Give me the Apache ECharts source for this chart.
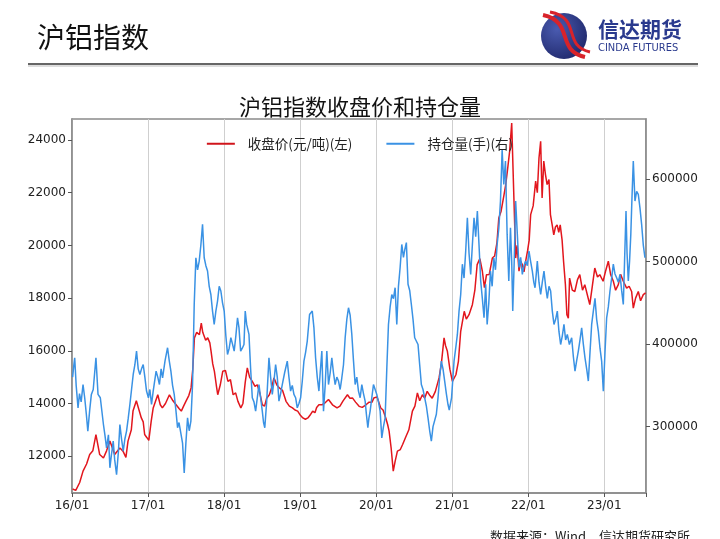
<!DOCTYPE html>
<html>
<head>
<meta charset="utf-8">
<script src="https://cdn.jsdelivr.net/npm/echarts@6/dist/echarts.min.js"></script>
<style>
  html, body { margin: 0; padding: 0; background: #fff; }
  #main { width: 720px; height: 539px; }
</style>
</head>
<body>
<div id="main"></div>
<script>
// 收盘价（元/吨），左轴
const priceDates = [
  '2016-01-04','2016-01-19','2016-02-07','2016-02-23','2016-03-11','2016-03-26','2016-04-10','2016-04-25','2016-05-13','2016-05-31',
  '2016-06-15','2016-07-01','2016-07-24','2016-08-18','2016-09-02','2016-09-16','2016-09-26','2016-10-12','2016-10-20','2016-11-05',
  '2016-11-13','2016-11-29','2016-12-08','2016-12-15','2016-12-26','2017-01-04','2017-01-15','2017-01-25','2017-02-06','2017-02-16',
  '2017-02-28','2017-03-10','2017-03-25','2017-04-13','2017-04-30','2017-05-15','2017-05-30','2017-06-09','2017-06-20','2017-07-01',
  '2017-07-15','2017-07-26','2017-08-03','2017-08-11','2017-08-22','2017-09-04','2017-09-13','2017-09-20','2017-10-04','2017-10-14',
  '2017-10-24','2017-10-30','2017-11-07','2017-11-15','2017-11-24','2017-12-01','2017-12-13','2017-12-25','2018-01-07','2018-01-19',
  '2018-01-31','2018-02-13','2018-02-25','2018-03-08','2018-03-22','2018-04-01','2018-04-12','2018-04-22','2018-05-03','2018-05-16',
  '2018-05-29','2018-06-09','2018-06-21','2018-07-03','2018-07-14','2018-07-24','2018-08-06','2018-08-17','2018-08-28','2018-09-11',
  '2018-09-23','2018-10-08','2018-10-25','2018-11-10','2018-11-25','2018-12-07','2018-12-20','2019-01-02','2019-01-14','2019-01-26',
  '2019-02-07','2019-02-17','2019-03-02','2019-03-13','2019-03-21','2019-04-01','2019-04-16','2019-04-27','2019-05-17','2019-06-05',
  '2019-06-27','2019-07-11','2019-07-26','2019-08-16','2019-08-28','2019-09-09','2019-09-24','2019-10-11','2019-10-26','2019-11-13',
  '2019-11-28','2019-12-12','2019-12-21','2020-01-05','2020-01-23','2020-02-03','2020-02-16','2020-02-25','2020-03-03','2020-03-13',
  '2020-03-23','2020-04-01','2020-04-12','2020-04-26','2020-05-07','2020-05-20','2020-06-06','2020-06-23','2020-07-05','2020-07-17',
  '2020-07-28','2020-08-10','2020-08-21','2020-09-02','2020-09-15','2020-09-26','2020-10-11','2020-10-29','2020-11-09','2020-11-22',
  '2020-11-29','2020-12-08','2020-12-20','2021-01-01','2021-01-18','2021-01-30','2021-02-10','2021-02-27','2021-03-09','2021-03-22',
  '2021-04-07','2021-04-19','2021-04-30','2021-05-13','2021-05-25','2021-06-04','2021-06-14','2021-06-27','2021-07-12','2021-07-23',
  '2021-08-03','2021-08-12','2021-08-23','2021-09-06','2021-09-14','2021-09-22','2021-10-03','2021-10-13','2021-10-19','2021-10-24',
  '2021-11-01','2021-11-08','2021-11-17','2021-11-25','2021-12-03','2021-12-11','2021-12-19','2021-12-28','2022-01-05','2022-01-12',
  '2022-01-24','2022-02-05','2022-02-13','2022-02-21','2022-03-01','2022-03-08','2022-03-16','2022-03-24','2022-04-01','2022-04-10',
  '2022-04-17','2022-04-25','2022-05-03','2022-05-11','2022-05-19','2022-05-27','2022-06-03','2022-06-12','2022-06-19','2022-06-28',
  '2022-07-05','2022-07-12','2022-07-18','2022-07-31','2022-08-12','2022-08-25','2022-09-05','2022-09-18','2022-09-29','2022-10-12',
  '2022-10-23','2022-11-05','2022-11-16','2022-11-29','2022-12-10','2022-12-26','2023-01-06','2023-01-20','2023-01-31','2023-02-13',
  '2023-02-24','2023-03-09','2023-03-20','2023-04-02','2023-04-18','2023-04-30','2023-05-12','2023-05-20','2023-05-31','2023-06-13',
  '2023-06-24','2023-07-07','2023-07-18'
];
const priceValues = [
  10750,10700,11000,11430,11700,12060,12200,12820,12060,11930,
  12200,12570,12060,12310,12190,11950,12570,13000,13710,14100,
  14080,13450,13300,12820,12700,12600,13300,13830,14100,14330,
  13950,13830,14000,14330,14100,13950,13800,13710,13900,14080,
  14300,14590,15300,16490,16700,16610,17050,16700,16400,16490,
  16300,15980,15500,15220,14700,14330,14700,15220,15250,14840,
  14900,14330,14400,14080,13830,14000,14800,15350,15000,14840,
  14650,14710,14400,13950,13900,14200,14330,14600,14970,14700,
  14590,14500,14080,13900,13830,13750,13710,13550,13450,13400,
  13450,13550,13710,13650,13850,13950,13950,14000,14150,13950,
  13830,13900,14100,14330,14200,14210,14050,13890,13850,13950,
  14050,14050,14210,14250,13830,13750,13450,13200,12950,12300,
  11430,11800,12190,12250,12440,12690,13000,13710,13900,14400,
  14100,14330,14200,14460,14300,14200,14450,14970,15500,16490,
  16200,15980,15300,14840,15090,15600,16740,17500,17200,17370,
  17750,18300,19270,19500,19020,18400,18890,18900,19520,19600,
  20100,21040,21300,21920,22300,22810,23570,24650,23000,21670,
  19520,20000,19020,19400,19270,19000,19400,19790,20200,21170,
  21500,22440,22000,23320,23950,21800,23200,22700,22310,22500,
  21170,20800,20400,20700,20780,20500,20780,20200,19400,18500,
  17370,17240,18760,18300,18250,18700,18890,18300,18510,18100,
  17750,18500,19140,18800,18890,18640,19000,19400,18900,18640,
  18300,18510,18900,18640,18380,18450,18250,17620,18000,18250,
  17900,18130,18200
];

// 持仓量（手），右轴
const oiDates = [
  '2016-01-04','2016-01-10','2016-01-14','2016-01-21','2016-01-30','2016-02-06','2016-02-14','2016-02-23','2016-03-02','2016-03-10',
  '2016-03-17','2016-03-26','2016-04-03','2016-04-12','2016-04-25','2016-05-05','2016-05-16','2016-05-31','2016-06-07','2016-06-15',
  '2016-06-24','2016-07-01','2016-07-08','2016-07-17','2016-07-24','2016-08-02','2016-08-11','2016-08-18','2016-08-26','2016-09-03',
  '2016-09-11','2016-09-19','2016-09-27','2016-10-05','2016-10-13','2016-10-21','2016-10-29','2016-11-06','2016-11-14','2016-11-22',
  '2016-11-30','2016-12-08','2016-12-16','2016-12-24','2017-01-02','2017-01-09','2017-01-17','2017-01-25','2017-02-08','2017-02-16',
  '2017-02-24','2017-03-04','2017-03-11','2017-03-23','2017-04-04','2017-04-12','2017-04-20','2017-04-28','2017-05-06','2017-05-14',
  '2017-05-22','2017-05-29','2017-06-07','2017-06-15','2017-06-23','2017-07-01','2017-07-09','2017-07-17','2017-07-25','2017-08-02',
  '2017-08-10','2017-08-18','2017-08-26','2017-09-03','2017-09-11','2017-09-19','2017-09-27','2017-10-05','2017-10-13','2017-10-21',
  '2017-10-29','2017-11-06','2017-11-14','2017-11-22','2017-11-30','2017-12-08','2017-12-16','2017-12-24','2018-01-01','2018-01-09',
  '2018-01-17','2018-01-25','2018-02-02','2018-02-10','2018-02-18','2018-02-26','2018-03-06','2018-03-13','2018-03-21','2018-03-29',
  '2018-04-06','2018-04-12','2018-04-19','2018-04-30','2018-05-08','2018-05-16','2018-05-24','2018-06-01','2018-06-09','2018-06-17',
  '2018-06-25','2018-07-03','2018-07-09','2018-07-15','2018-07-24','2018-08-04','2018-08-12','2018-08-20','2018-08-28','2018-09-05',
  '2018-09-13','2018-09-21','2018-09-29','2018-10-07','2018-10-18','2018-10-31','2018-11-08','2018-11-16','2018-11-24','2018-12-02',
  '2018-12-10','2018-12-18','2018-12-26','2019-01-03','2019-01-11','2019-01-19','2019-01-27','2019-02-04','2019-02-15','2019-02-22',
  '2019-02-28','2019-03-08','2019-03-16','2019-03-24','2019-04-01','2019-04-07','2019-04-15','2019-04-23','2019-05-01','2019-05-09',
  '2019-05-17','2019-05-25','2019-06-02','2019-06-10','2019-06-18','2019-06-26','2019-07-04','2019-07-12','2019-07-20','2019-07-28',
  '2019-08-05','2019-08-13','2019-08-21','2019-08-29','2019-09-06','2019-09-14','2019-09-22','2019-09-30','2019-10-08','2019-10-16',
  '2019-10-24','2019-11-01','2019-11-09','2019-11-15','2019-11-22','2019-11-27','2019-12-03','2019-12-11','2019-12-19','2019-12-27',
  '2020-01-04','2020-01-12','2020-01-20','2020-01-28','2020-02-05','2020-02-13','2020-02-21','2020-02-29','2020-03-08','2020-03-16',
  '2020-03-24','2020-04-01','2020-04-09','2020-04-17','2020-04-25','2020-05-03','2020-05-11','2020-05-18','2020-05-25','2020-06-02',
  '2020-06-10','2020-06-18','2020-06-26','2020-07-04','2020-07-12','2020-07-20','2020-07-28','2020-08-05','2020-08-13','2020-08-21',
  '2020-08-29','2020-09-06','2020-09-14','2020-09-22','2020-09-30','2020-10-08','2020-10-16','2020-10-24','2020-11-01','2020-11-09',
  '2020-11-17','2020-11-25','2020-12-03','2020-12-11','2020-12-17','2020-12-28','2021-01-09','2021-01-17','2021-01-25','2021-02-02',
  '2021-02-10','2021-02-18','2021-02-26','2021-03-06','2021-03-14','2021-03-22','2021-03-30','2021-04-07','2021-04-15','2021-04-23',
  '2021-05-01','2021-05-09','2021-05-17','2021-05-25','2021-06-02','2021-06-10','2021-06-17','2021-06-25','2021-07-03','2021-07-11',
  '2021-07-19','2021-07-27','2021-08-04','2021-08-12','2021-08-20','2021-08-28','2021-09-05','2021-09-13','2021-09-21','2021-09-29',
  '2021-10-07','2021-10-13','2021-10-18','2021-10-25','2021-11-01','2021-11-09','2021-11-17','2021-11-25','2021-12-03','2021-12-11',
  '2021-12-19','2021-12-27','2022-01-04','2022-01-12','2022-01-20','2022-01-27','2022-02-02','2022-02-08','2022-02-13','2022-02-21',
  '2022-03-01','2022-03-09','2022-03-17','2022-03-25','2022-04-02','2022-04-10','2022-04-18','2022-04-26','2022-05-04','2022-05-12',
  '2022-05-20','2022-05-28','2022-06-05','2022-06-13','2022-06-21','2022-06-29','2022-07-07','2022-07-17','2022-07-28','2022-08-05',
  '2022-08-13','2022-08-21','2022-08-29','2022-09-06','2022-09-14','2022-09-22','2022-09-30','2022-10-08','2022-10-16','2022-10-24',
  '2022-11-01','2022-11-09','2022-11-17','2022-11-25','2022-12-03','2022-12-11','2022-12-19','2022-12-27','2023-01-04','2023-01-12',
  '2023-01-20','2023-01-28','2023-02-05','2023-02-13','2023-02-21','2023-03-01','2023-03-09','2023-03-17','2023-03-25','2023-04-02',
  '2023-04-08','2023-04-15','2023-04-20','2023-04-26','2023-05-02','2023-05-08','2023-05-14','2023-05-20','2023-05-28','2023-06-05',
  '2023-06-13','2023-06-21','2023-06-29','2023-07-07','2023-07-15'
];
const oiValues = [
  360000,375000,383400,350000,322800,340000,330000,351000,335000,314700,
  294600,320000,339000,345000,383400,339000,335000,302600,290000,274300,
  290000,250100,265000,282500,260000,241900,270000,302600,285000,270300,
  285000,294600,310000,326800,345000,363200,375000,391500,370000,363200,
  370000,375300,360000,343100,335000,345000,326800,343100,367300,360000,
  351000,370000,359200,380000,395600,380000,367300,350000,339000,320000,
  298600,305000,306700,280000,244000,280000,310700,295000,306700,351000,
  448000,504600,490000,500600,520000,545000,504600,495000,488500,470000,
  460100,440000,423800,440000,452100,470000,464300,450000,440000,410000,
  387400,395000,407700,400000,391500,410000,431900,420000,391500,395000,
  399500,440000,423800,411700,370000,334900,330000,318800,335000,351000,
  335000,318800,305000,298600,330000,383400,360000,339000,355000,375300,
  360000,330900,340000,351000,365000,379400,360000,343100,350000,339000,
  335000,322800,328000,334900,355000,379400,390000,403700,435900,438000,
  440000,420000,383400,360000,343100,365000,391500,318800,350000,391500,
  351000,365000,383400,365000,351000,360000,355200,345000,359200,375000,
  407700,430000,444000,435000,411700,380000,351000,360000,343100,335000,
  351000,340000,330900,315000,298600,310000,318800,335000,351000,345000,
  339000,330000,318800,286400,300000,310700,370000,423800,445000,460100,
  455000,468300,423800,470000,492800,520700,505000,515000,523000,472500,
  465000,448000,430000,407700,410000,399500,375000,351000,345000,334900,
  325000,310700,295000,282500,300000,298600,315000,334900,360000,379400,
  370000,355200,340000,326800,320000,334900,379400,395000,411700,440000,
  460100,496800,480000,512700,553100,510000,484400,520000,553100,530000,
  561200,520000,476400,455000,431900,472500,423800,450000,488500,470000,
  504600,490000,520700,540000,573300,635000,593500,621800,532900,476400,
  541000,500000,440000,500000,573300,532900,492800,505000,484400,495000,
  500600,495000,512700,500000,488500,475000,468300,485000,500600,475000,
  460100,475000,488500,470000,455400,470000,464300,440000,423800,430000,
  440000,415000,399500,410000,423800,405000,411700,399500,407700,385000,
  367300,380000,391500,405000,419800,400000,383400,370000,355200,390000,
  423800,440000,455400,430000,415800,395000,379400,343000,390000,431900,
  445000,464300,480000,496800,485000,480400,475000,484400,465000,448000,
  500000,561200,510000,476400,500000,532900,580000,621800,573300,585000,
  581300,565000,545000,520000,504600
];

// 坐标轴刻度
const leftTicks = [12000, 14000, 16000, 18000, 20000, 22000, 24000];
const rightTicks = [300000, 400000, 500000, 600000];

const DAY = 86400000;
const toSeries = (dates, values) => dates.map((d, i) => [Date.parse(d), values[i]]);

const chart = echarts.init(document.getElementById('main'), null, { renderer: 'canvas' });
const numFont = 'DejaVu Sans, Liberation Sans, sans-serif';
const cnFont = '"Noto Sans CJK SC", sans-serif';

chart.setOption({
  animation: false,
  backgroundColor: '#fff',
  title: {
    text: '沪铝指数收盘价和持仓量',
    left: 'center',
    top: 91,
    textStyle: { fontFamily: cnFont, fontSize: 22, fontWeight: 'normal', color: '#111' }
  },
  legend: {
    top: 132,
    left: 'center',
    itemGap: 34,
    itemWidth: 28,
    itemHeight: 2,
    icon: 'rect',
    textStyle: { fontFamily: cnFont, fontSize: 13.5, color: '#222', padding: [0, 0, 0, 8] },
    data: ['收盘价(元/吨)(左)', '持仓量(手)(右)']
  },
  graphic: [
    // 页眉
    { type: 'text', left: 37, top: 23, style: { text: '沪铝指数', font: '28px "Noto Sans CJK SC"', fill: '#111' } },
    { type: 'rect', shape: { x: 28, y: 63, width: 670, height: 2 }, style: { fill: '#666' } },
    { type: 'rect', shape: { x: 28, y: 65, width: 670, height: 2 }, style: { fill: '#ddd' } },
    // 标志
    { type: 'circle', shape: { cx: 564, cy: 36, r: 23 },
      style: { fill: new echarts.graphic.RadialGradient(0.35, 0.35, 0.8, [
        { offset: 0, color: '#4a5bb0' }, { offset: 1, color: '#1c2466' }]) } },
    { type: 'bezierCurve', shape: { x1: 543, y1: 15, x2: 585, y2: 57, cpx1: 575, cpy1: 22, cpx2: 555, cpy2: 50 },
      style: { stroke: '#d8232a', lineWidth: 4, fill: null } },
    { type: 'bezierCurve', shape: { x1: 550, y1: 12, x2: 590, y2: 52, cpx1: 582, cpy1: 18, cpx2: 562, cpy2: 46 },
      style: { stroke: '#d8232a', lineWidth: 3, fill: null } },
    { type: 'text', left: 598, top: 19, style: { text: '信达期货', font: 'bold 21px "Noto Sans CJK SC"', fill: '#2a3a8e' } },
    { type: 'text', left: 598, top: 43, style: { text: 'CINDA FUTURES', font: '11px "Liberation Sans Narrow", "DejaVu Sans Condensed", sans-serif', fill: '#2a3a8e' } },
    // 数据来源
    { type: 'text', left: 490, top: 530, style: { text: '数据来源：Wind，信达期货研究所', font: '13px "Noto Sans CJK SC"', fill: '#222' } }
  ],
  grid: {
    left: 72, right: 74, top: 119, bottom: 46,
    show: true, borderColor: '#8a8a8a', borderWidth: 1.5, backgroundColor: 'transparent'
  },
  xAxis: {
    type: 'value',
    min: Date.parse('2016-01-01'),
    max: Date.parse('2023-07-20'),
    interval: 365.25 * DAY,
    axisLine: { show: true, lineStyle: { color: '#8a8a8a', width: 1.5 } },
    axisTick: { show: true, length: 4, lineStyle: { color: '#555' } },
    splitLine: { show: true, lineStyle: { color: '#cfcfcf', width: 1 } },
    axisLabel: {
      fontFamily: numFont, fontSize: 12, color: '#222', margin: 7,
      formatter: v => {
        const d = new Date(v + 2 * DAY);
        if (d.getUTCMonth() !== 0 || d.getUTCDate() > 6) return '';
        return String(d.getUTCFullYear()).slice(2) + '/01';
      }
    }
  },
  yAxis: [
    {
      type: 'value', position: 'left', min: 10600, max: 24800,
      axisLine: { show: true, lineStyle: { color: '#8a8a8a', width: 1.5 } },
      axisTick: { show: true, length: 4, customValues: leftTicks, lineStyle: { color: '#555' } },
      axisLabel: { customValues: leftTicks, formatter: v => String(v), fontFamily: numFont, fontSize: 12, color: '#222', margin: 6 },
      splitLine: { show: false }
    },
    {
      type: 'value', position: 'right', min: 219600, max: 672700,
      axisLine: { show: true, lineStyle: { color: '#8a8a8a', width: 1.5 } },
      axisTick: { show: true, length: 4, customValues: rightTicks, lineStyle: { color: '#555' } },
      axisLabel: { customValues: rightTicks, formatter: v => String(v), fontFamily: numFont, fontSize: 12, color: '#222', margin: 6 },
      splitLine: { show: false }
    }
  ],
  series: [
    {
      name: '收盘价(元/吨)(左)', type: 'line', yAxisIndex: 0,
      data: toSeries(priceDates, priceValues),
      showSymbol: false, symbol: 'none',
      lineStyle: { color: '#e2161d', width: 1.5 },
      itemStyle: { color: '#d0141b' }
    },
    {
      name: '持仓量(手)(右)', type: 'line', yAxisIndex: 1,
      data: toSeries(oiDates, oiValues),
      showSymbol: false, symbol: 'none',
      lineStyle: { color: '#3a92e4', width: 1.5 },
      itemStyle: { color: '#3a92e4' }
    }
  ]
});
</script>
</body>
</html>
